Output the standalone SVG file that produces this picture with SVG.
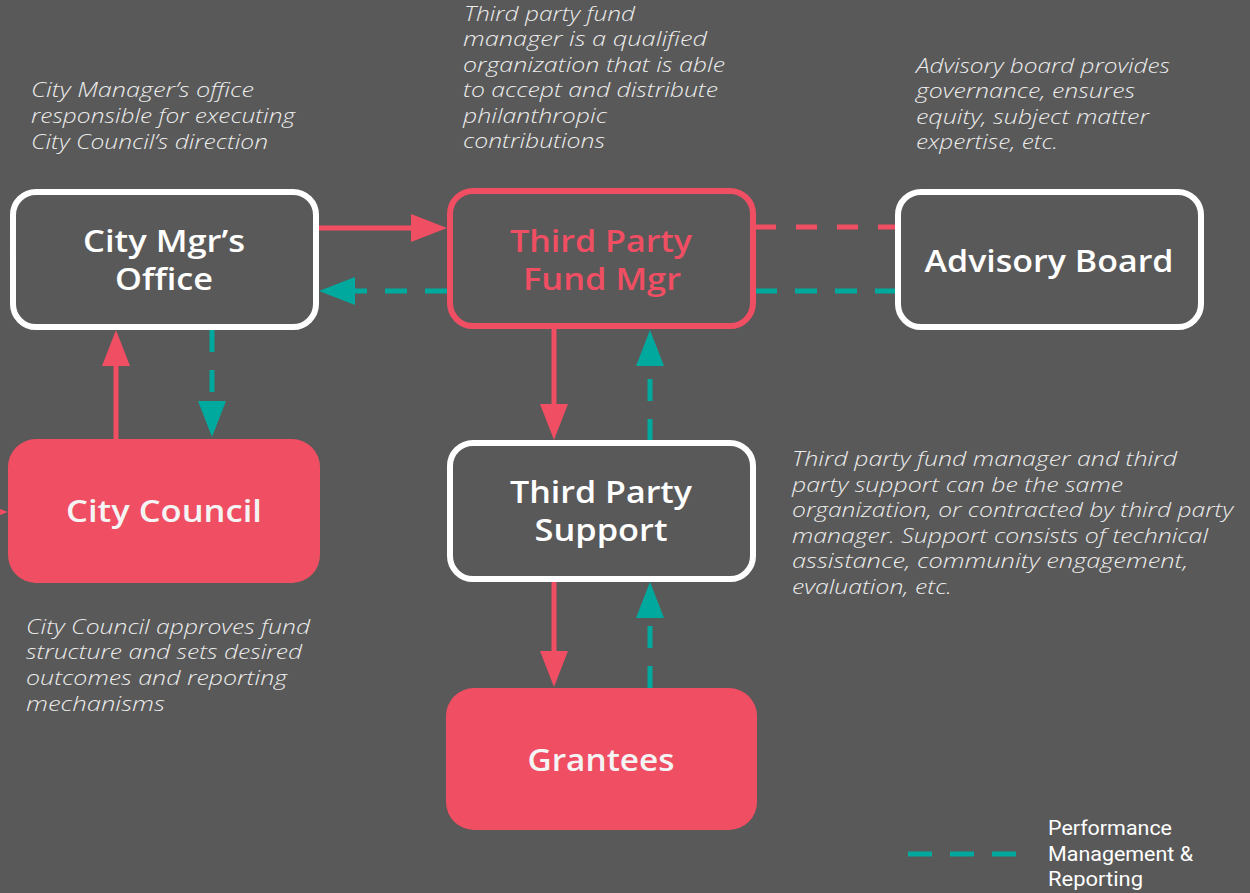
<svg xmlns="http://www.w3.org/2000/svg" width="1250" height="893" viewBox="0 0 1250 893">
  <style>
    .bg { fill: #595959; }
    .box { fill: #595959; stroke: #ffffff; stroke-width: 6; }
    .box-pink { fill: #595959; stroke: #f04e63; stroke-width: 6; }
    .solid { fill: #f04e63; }
    .label { font-family: "Open Sans", "Liberation Sans", sans-serif; font-weight: 600; font-size: 31px; fill: #ffffff; text-anchor: middle; }
    .label-pink { fill: #f04e63; }
    .label-soft { fill: #f4f4f4; }
    .note { font-family: "Open Sans", "Liberation Sans", sans-serif; font-style: italic; font-weight: 300; font-size: 20px; fill: #ececec; }
    .legend { font-family: Roboto, "Liberation Sans", sans-serif; font-size: 20px; fill: #ffffff; }
    .flow { fill: none; stroke: #f04e63; stroke-width: 5; }
    .report { fill: none; stroke: #00a99d; stroke-width: 5; stroke-dasharray: 22 18; }
    .link-pink { fill: none; stroke: #f04e63; stroke-width: 5; stroke-dasharray: 21 20; }
  </style>
  <defs>
    <marker id="head-pink" viewBox="0 0 36 28" refX="0" refY="14" markerWidth="36" markerHeight="28" markerUnits="userSpaceOnUse" orient="auto">
      <path d="M0,0 L36,14 L0,28 Z" fill="#f04e63"/>
    </marker>
    <marker id="head-teal" viewBox="0 0 36 28" refX="0" refY="14" markerWidth="36" markerHeight="28" markerUnits="userSpaceOnUse" orient="auto">
      <path d="M0,0 L36,14 L0,28 Z" fill="#00a99d"/>
    </marker>
  </defs>

  <rect class="bg" x="0" y="0" width="1250" height="893"/>

  <!-- connectors -->
  <g id="connectors">
    <line class="flow" x1="318" y1="228" x2="411" y2="228" marker-end="url(#head-pink)"/>
    <line class="report" x1="447" y1="291" x2="355" y2="291" marker-end="url(#head-teal)"/>
    <line class="link-pink" x1="755" y1="227" x2="896" y2="227"/>
    <line class="report" x1="755" y1="291" x2="896" y2="291" stroke-dasharray="21 20"/>
    <line class="flow" x1="116" y1="440" x2="116" y2="366" marker-end="url(#head-pink)"/>
    <line class="report" x1="212" y1="330" x2="212" y2="401" marker-end="url(#head-teal)"/>
    <line class="flow" x1="554" y1="329" x2="554" y2="404" marker-end="url(#head-pink)"/>
    <line class="report" x1="650" y1="441" x2="650" y2="366" marker-end="url(#head-teal)"/>
    <line class="flow" x1="554" y1="581" x2="554" y2="651" marker-end="url(#head-pink)"/>
    <line class="report" x1="650" y1="688" x2="650" y2="618" marker-end="url(#head-teal)"/>
    <line class="flow" x1="-60" y1="512" x2="-28" y2="512" marker-end="url(#head-pink)"/>
  </g>

  <!-- nodes -->
  <g id="city-mgr">
    <rect class="box" x="13" y="192" width="303" height="135" rx="23"/>
    <text class="label" x="164" y="252" textLength="162" lengthAdjust="spacingAndGlyphs">City Mgr’s</text>
    <text class="label" x="164" y="290" textLength="98" lengthAdjust="spacingAndGlyphs">Office</text>
  </g>
  <g id="fund-mgr">
    <rect class="box-pink" x="450" y="191" width="303" height="135" rx="23"/>
    <text class="label label-pink" x="601" y="252" textLength="182" lengthAdjust="spacingAndGlyphs">Third Party</text>
    <text class="label label-pink" x="602" y="290" textLength="158" lengthAdjust="spacingAndGlyphs">Fund Mgr</text>
  </g>
  <g id="advisory-board">
    <rect class="box" x="898" y="192" width="303" height="135" rx="23"/>
    <text class="label" x="1049" y="272" textLength="249" lengthAdjust="spacingAndGlyphs">Advisory Board</text>
  </g>
  <g id="city-council">
    <rect class="solid" x="8" y="439" width="312" height="144" rx="28"/>
    <text class="label label-soft" x="164" y="522" textLength="196" lengthAdjust="spacingAndGlyphs">City Council</text>
  </g>
  <g id="support">
    <rect class="box" x="450" y="443" width="303" height="136" rx="23"/>
    <text class="label" x="601" y="503" textLength="182" lengthAdjust="spacingAndGlyphs">Third Party</text>
    <text class="label" x="601" y="541" textLength="133" lengthAdjust="spacingAndGlyphs">Support</text>
  </g>
  <g id="grantees">
    <rect class="solid" x="446" y="688" width="311" height="142" rx="28"/>
    <text class="label label-soft" x="601" y="771" textLength="147" lengthAdjust="spacingAndGlyphs">Grantees</text>
  </g>

  <!-- notes -->
  <g id="note-city-mgr">
    <text class="note" x="31" y="97" textLength="223" lengthAdjust="spacingAndGlyphs">City Manager’s office</text>
    <text class="note" x="31" y="123" textLength="264" lengthAdjust="spacingAndGlyphs">responsible for executing</text>
    <text class="note" x="31" y="149" textLength="237" lengthAdjust="spacingAndGlyphs">City Council’s direction</text>
  </g>
  <g id="note-fund-mgr">
    <text class="note" x="464" y="21" textLength="171" lengthAdjust="spacingAndGlyphs">Third party fund</text>
    <text class="note" x="463" y="46" textLength="244" lengthAdjust="spacingAndGlyphs">manager is a qualified</text>
    <text class="note" x="463" y="72" textLength="262" lengthAdjust="spacingAndGlyphs">organization that is able</text>
    <text class="note" x="463" y="97" textLength="255" lengthAdjust="spacingAndGlyphs">to accept and distribute</text>
    <text class="note" x="463" y="123" textLength="144" lengthAdjust="spacingAndGlyphs">philanthropic</text>
    <text class="note" x="463" y="148" textLength="142" lengthAdjust="spacingAndGlyphs">contributions</text>
  </g>
  <g id="note-advisory">
    <text class="note" x="916" y="73" textLength="254" lengthAdjust="spacingAndGlyphs">Advisory board provides</text>
    <text class="note" x="916" y="98" textLength="219" lengthAdjust="spacingAndGlyphs">governance, ensures</text>
    <text class="note" x="916" y="124" textLength="233" lengthAdjust="spacingAndGlyphs">equity, subject matter</text>
    <text class="note" x="916" y="149" textLength="142" lengthAdjust="spacingAndGlyphs">expertise, etc.</text>
  </g>
  <g id="note-support">
    <text class="note" x="792" y="466" textLength="385" lengthAdjust="spacingAndGlyphs">Third party fund manager and third</text>
    <text class="note" x="792" y="492" textLength="331" lengthAdjust="spacingAndGlyphs">party support can be the same</text>
    <text class="note" x="792" y="517" textLength="441" lengthAdjust="spacingAndGlyphs">organization, or contracted by third party</text>
    <text class="note" x="792" y="543" textLength="416" lengthAdjust="spacingAndGlyphs">manager. Support consists of technical</text>
    <text class="note" x="792" y="568" textLength="396" lengthAdjust="spacingAndGlyphs">assistance, community engagement,</text>
    <text class="note" x="792" y="594" textLength="160" lengthAdjust="spacingAndGlyphs">evaluation, etc.</text>
  </g>
  <g id="note-council">
    <text class="note" x="26" y="634" textLength="284" lengthAdjust="spacingAndGlyphs">City Council approves fund</text>
    <text class="note" x="26" y="659" textLength="276" lengthAdjust="spacingAndGlyphs">structure and sets desired</text>
    <text class="note" x="26" y="685" textLength="261" lengthAdjust="spacingAndGlyphs">outcomes and reporting</text>
    <text class="note" x="26" y="711" textLength="139" lengthAdjust="spacingAndGlyphs">mechanisms</text>
  </g>

  <!-- legend -->
  <g id="legend">
    <line x1="908" y1="854" x2="1016" y2="854" stroke="#00a99d" stroke-width="5" stroke-dasharray="24 18"/>
    <text class="legend" x="1048" y="835" textLength="124" lengthAdjust="spacingAndGlyphs">Performance</text>
    <text class="legend" x="1048" y="861" textLength="145" lengthAdjust="spacingAndGlyphs">Management &amp;</text>
    <text class="legend" x="1048" y="886" textLength="95" lengthAdjust="spacingAndGlyphs">Reporting</text>
  </g>
</svg>
